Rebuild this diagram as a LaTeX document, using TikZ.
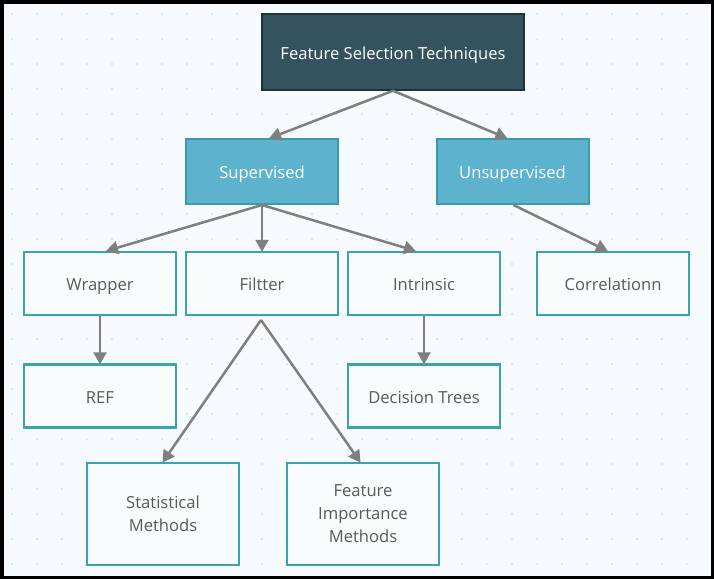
\documentclass[tikz,border=0pt]{standalone}
\usepackage{fontspec}
\setmainfont{Open Sans}
\usetikzlibrary{arrows.meta}
\definecolor{bgc}{HTML}{F6FAFC}
\definecolor{dotc}{HTML}{C9E6EC}
\definecolor{topfill}{HTML}{34535F}
\definecolor{topdraw}{HTML}{1F323A}
\definecolor{midfill}{HTML}{5DB3CD}
\definecolor{middraw}{HTML}{3A9CA8}
\definecolor{leafdraw}{HTML}{3BA3B0}
\definecolor{leaffill}{HTML}{F8FCFD}
\definecolor{txtc}{HTML}{595959}
\definecolor{arrc}{HTML}{7F7F7F}
\begin{document}
\begin{tikzpicture}[x=1pt,y=-1pt,
  box/.style={rectangle, inner sep=0pt, align=center, font=\fontsize{16.6}{23}\selectfont},
  one/.style={text height=15pt, text depth=1pt},
  topbox/.style={box, one, fill=topfill, draw=topdraw, line width=1.5pt, text=white, minimum width=262pt, minimum height=76pt},
  midbox/.style={box, one, fill=midfill, draw=middraw, line width=2pt, text=white, minimum width=152pt, minimum height=65pt},
  leafbox/.style={box, fill=leaffill, draw=leafdraw, line width=2.5pt, text=txtc, minimum width=152pt, minimum height=63pt},
  bigleaf/.style={leafbox, minimum height=102pt},
  arr/.style={draw=arrc, line width=2.5pt, -{Triangle[length=12pt,width=13pt]}, shorten >=-1pt}
]
\useasboundingbox (0,0) rectangle (714,579);
\fill[bgc] (0,0) rectangle (714,579);
\foreach \x in {12,37,...,712} {
  \foreach \y in {14,39,...,579} {
    \fill[dotc] (\x,\y) circle (1.2pt);
  }
}
\draw[black, line width=3.5pt] (1.75,1.75) rectangle (712.25,577.25);

\node[topbox] (fst) at (393,52) {Feature Selection Techniques};
\node[midbox] (sup) at (262,171.5) {Supervised};
\node[midbox] (uns) at (512.5,171.5) {Unsupervised};
\node[leafbox, one] (wra) at (100,283.5) {Wrapper};
\node[leafbox, one] (fil) at (262,283.5) {Filtter};
\node[leafbox, one] (int) at (424,283.5) {Intrinsic};
\node[leafbox, one] (cor) at (613,283.5) {Correlationn};
\node[leafbox, one] (ref) at (100,396) {REF};
\node[leafbox, one] (dec) at (424,396) {Decision Trees};
\node[bigleaf, text depth=-3pt] (sta) at (163,514) {Statistical\\Methods};
\node[bigleaf, text depth=-3pt] (imp) at (363,514) {Feature\\Importance\\Methods};

\coordinate (fsplit) at (261,320);

\draw[arr] (fst.south) -- ([xshift=8pt]sup.north);
\draw[arr] (fst.south) -- ([xshift=-6pt]uns.north);
\draw[arr] (sup.south) -- ([xshift=7pt]wra.north);
\draw[arr] (sup.south) -- (fil.north);
\draw[arr] (sup.south) -- ([xshift=-9pt]int.north);
\draw[arr] ([xshift=1pt]uns.south) -- ([xshift=-6pt]cor.north);
\draw[arr] (wra.south) -- (ref.north);
\draw[arr] (int.south) -- (dec.north);
\draw[arr, shorten <=0pt] (fsplit) -- (sta.north);
\draw[arr] (fsplit) -- ([xshift=-3pt]imp.north);
\end{tikzpicture}
\end{document}
